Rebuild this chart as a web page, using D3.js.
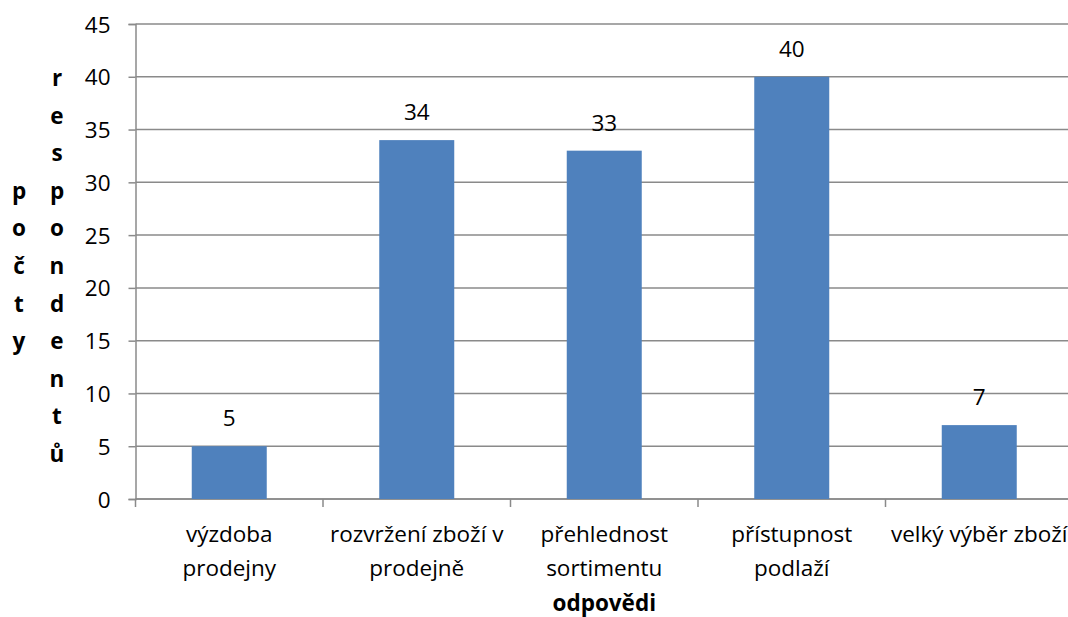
<!DOCTYPE html>
<html>
<head>
<meta charset="utf-8">
<script src="https://cdn.jsdelivr.net/npm/d3@7"></script>
<style>
  html, body { margin: 0; padding: 0; background: #fff; }
  svg { display: block; }
  text { font-family: "Open Sans", "Noto Sans", sans-serif; fill: #000; }
</style>
</head>
<body>
<svg id="chart" width="1068" height="617"></svg>
<script>
// Survey answers: number of respondents per reason
const categories = [
  "výzdoba\nprodejny",
  "rozvržení zboží v\nprodejně",
  "přehlednost\nsortimentu",
  "přístupnost\npodlaží",
  "velký výběr zboží"
];
const values = [5, 34, 33, 40, 7];
const yTicks = [0, 5, 10, 15, 20, 25, 30, 35, 40, 45];
const xTitle = "odpovědi";
const yTitleColumns = ["počty", "respondentů"];

const svg = d3.select("#chart");
const margin = { left: 135.5, top: 24, bottom: 499, right: 1073 };
const fontSize = 22.5;
const gridColor = "#8a8a8a";

const x = d3.scaleBand()
  .domain(d3.range(categories.length))
  .range([margin.left, margin.right])
  .paddingInner(0.6)
  .paddingOuter(0.3);

const y = d3.scaleLinear()
  .domain([0, 45])
  .range([margin.bottom, margin.top]);

// horizontal gridlines
svg.append("g")
  .selectAll("line")
  .data(yTicks)
  .join("line")
  .attr("x1", margin.left)
  .attr("x2", 1068)
  .attr("y1", d => y(d))
  .attr("y2", d => y(d))
  .attr("stroke", gridColor)
  .attr("stroke-width", 1.5);

// value axis
const yAxis = svg.append("g")
  .attr("transform", `translate(${margin.left},0)`)
  .call(d3.axisLeft(y).tickValues(yTicks).tickSize(7).tickPadding(18).tickFormat(d3.format("d")));
yAxis.select(".domain").attr("stroke", gridColor).attr("stroke-width", 1.5);
yAxis.selectAll(".tick line").attr("stroke", gridColor).attr("stroke-width", 1.5);
yAxis.selectAll(".tick text")
  .attr("font-size", fontSize)
  .attr("font-family", "'Open Sans', sans-serif")
  .attr("fill", "#000")
  .attr("dy", "0.36em");

// category axis: boundary ticks between groups
const step = x.step();
const bounds = d3.range(categories.length + 1).map(i => margin.left + i * step);
svg.append("g")
  .selectAll("line")
  .data(bounds)
  .join("line")
  .attr("x1", d => d)
  .attr("x2", d => d)
  .attr("y1", margin.bottom)
  .attr("y2", margin.bottom + 8)
  .attr("stroke", gridColor)
  .attr("stroke-width", 1.5);

svg.append("line")
  .attr("x1", margin.left)
  .attr("x2", 1068)
  .attr("y1", margin.bottom)
  .attr("y2", margin.bottom)
  .attr("stroke", gridColor)
  .attr("stroke-width", 1.5);

// bars
svg.append("g")
  .selectAll("rect")
  .data(values)
  .join("rect")
  .attr("x", (d, i) => x(i))
  .attr("width", x.bandwidth())
  .attr("y", d => y(d))
  .attr("height", d => y(0) - y(d))
  .attr("fill", "#4f81bd");

// value labels above bars
svg.append("g")
  .selectAll("text")
  .data(values)
  .join("text")
  .attr("x", (d, i) => x(i) + x.bandwidth() / 2)
  .attr("y", d => y(d) - 20)
  .attr("text-anchor", "middle")
  .attr("font-size", fontSize)
  .text(d => d);

// category labels
const catG = svg.append("g");
categories.forEach((c, i) => {
  const t = catG.append("text")
    .attr("text-anchor", "middle")
    .attr("font-size", fontSize);
  c.split("\n").forEach((line, j) => {
    t.append("tspan")
      .attr("x", x(i) + x.bandwidth() / 2)
      .attr("y", 542 + j * 34)
      .text(line);
  });
});

// axis titles
svg.append("text")
  .attr("x", (margin.left + margin.right) / 2)
  .attr("y", 611)
  .attr("text-anchor", "middle")
  .attr("font-size", fontSize)
  .attr("font-weight", "bold")
  .text(xTitle);

// vertical title: letters stacked in columns
const lineStep = 37.6;
const centerBase = 86 + 5 * lineStep;
const colX = [19, 57];
yTitleColumns.forEach((word, ci) => {
  const letters = Array.from(word);
  const start = centerBase - (letters.length - 1) / 2 * lineStep;
  svg.append("g")
    .selectAll("text")
    .data(letters)
    .join("text")
    .attr("x", colX[ci])
    .attr("y", (d, k) => start + k * lineStep)
    .attr("text-anchor", "middle")
    .attr("font-size", fontSize)
    .attr("font-weight", "bold")
    .text(d => d);
});
</script>
</body>
</html>
